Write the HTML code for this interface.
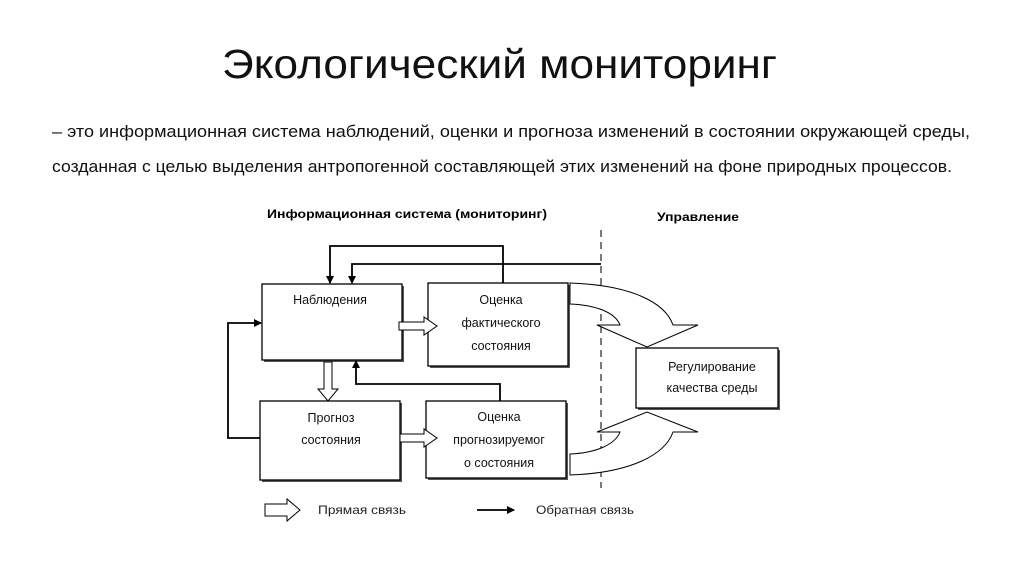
<!DOCTYPE html>
<html><head><meta charset="utf-8"><style>
html,body{margin:0;padding:0;background:#fff;}
svg{display:block;font-family:"Liberation Sans",sans-serif;}
</style></head><body>
<svg width="1024" height="574" viewBox="0 0 1024 574" xmlns="http://www.w3.org/2000/svg">
<defs>
<marker id="ah" markerWidth="8" markerHeight="8" refX="7" refY="4" orient="auto" markerUnits="userSpaceOnUse">
<path d="M0,0 L8,4 L0,8 z" fill="#000"/></marker>
</defs>
<text x="222" y="78" font-size="41" textLength="555" lengthAdjust="spacingAndGlyphs" fill="#111">Экологический мониторинг</text>
<text x="52" y="137" font-size="17" textLength="918" lengthAdjust="spacingAndGlyphs" fill="#111">– это информационная система наблюдений, оценки и прогноза изменений в состоянии окружающей среды,</text>
<text x="52" y="172" font-size="17" textLength="900" lengthAdjust="spacingAndGlyphs" fill="#111">созданная с целью выделения антропогенной составляющей этих изменений на фоне природных процессов.</text>

<text x="267" y="218" font-size="12" font-weight="bold" textLength="280" lengthAdjust="spacingAndGlyphs">Информационная система (мониторинг)</text>
<text x="657" y="221" font-size="12" font-weight="bold" textLength="82" lengthAdjust="spacingAndGlyphs">Управление</text>

<line x1="601" y1="230" x2="601" y2="488" stroke="#333" stroke-width="1.3" stroke-dasharray="7,5"/>

<g fill="#fff" stroke="#000" stroke-width="1.3">
<rect x="264" y="286" width="140" height="76" fill="#555" stroke="none"/>
<rect x="262" y="284" width="140" height="76"/>
<rect x="430" y="285" width="140" height="83" fill="#555" stroke="none"/>
<rect x="428" y="283" width="140" height="83"/>
<rect x="262" y="403" width="140" height="79" fill="#555" stroke="none"/>
<rect x="260" y="401" width="140" height="79"/>
<rect x="428" y="403" width="140" height="77" fill="#555" stroke="none"/>
<rect x="426" y="401" width="140" height="77"/>
<rect x="638" y="350" width="142" height="60" fill="#555" stroke="none"/>
<rect x="636" y="348" width="142" height="60"/>
</g>

<g font-size="12.5" text-anchor="middle" fill="#111">
<text x="330" y="304">Наблюдения</text>
<text x="501" y="304">Оценка</text>
<text x="501" y="327">фактического</text>
<text x="501" y="350">состояния</text>
<text x="331" y="422">Прогноз</text>
<text x="331" y="444">состояния</text>
<text x="499" y="421">Оценка</text>
<text x="499" y="444">прогнозируемог</text>
<text x="499" y="467">о состояния</text>
<text x="712" y="371">Регулирование</text>
<text x="712" y="392">качества среды</text>
</g>

<g fill="none" stroke="#000" stroke-width="1.8">
<polyline points="503,283 503,246 330,246 330,283" marker-end="url(#ah)"/>
<polyline points="601,264 352,264 352,283" marker-end="url(#ah)"/>
<polyline points="260,438 228,438 228,323 261,323" marker-end="url(#ah)"/>
<polyline points="500,401 500,384 356,384 356,361" marker-end="url(#ah)"/>
</g>

<g fill="#fff" stroke="#000" stroke-width="1">
<path d="M399,322 L424,322 L424,317 L437,326 L424,335 L424,330 L399,330 z"/>
<path d="M324,362 L332,362 L332,389 L338,389 L328,401 L318,389 L324,389 z"/>
<path d="M400,434 L424,434 L424,429 L437,438 L424,447 L424,442 L400,442 z"/>
<path d="M570,283 C630,285 665,302 673,325 L698,325 L647,347 L597,325 L620,325 C615,312 595,305 570,304 z"/>
<path d="M570,475 C630,473 665,455 673,432 L698,432 L647,412 L597,432 L620,432 C615,445 595,453 570,454 z"/>
<path d="M265,504 L287,504 L287,499 L300,510 L287,521 L287,516 L265,516 z"/>
</g>
<line x1="477" y1="510" x2="514" y2="510" stroke="#000" stroke-width="1.8" marker-end="url(#ah)"/>
<g font-size="12" fill="#222">
<text x="318" y="514" textLength="88" lengthAdjust="spacingAndGlyphs">Прямая связь</text>
<text x="536" y="514" textLength="98" lengthAdjust="spacingAndGlyphs">Обратная связь</text>
</g>
</svg>
</body></html>
